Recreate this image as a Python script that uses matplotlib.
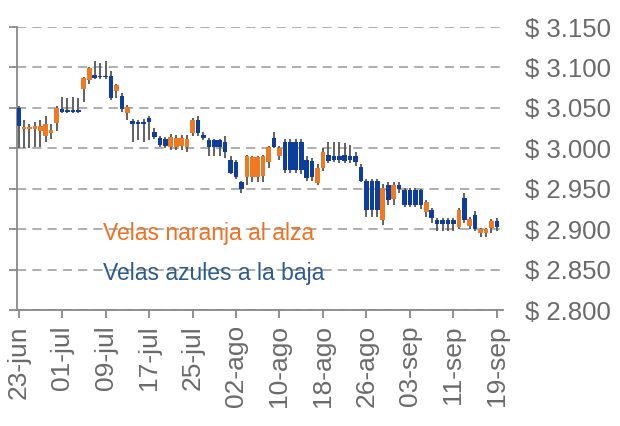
import numpy as np
import pandas as pd
import matplotlib
matplotlib.use("Agg")
import matplotlib.pyplot as plt
from matplotlib.ticker import FuncFormatter

plt.rcParams['font.family'] = ['Liberation Sans', 'DejaVu Sans']

# tasa diaria COP/USD, 23-jun a 19-sep
dates = pd.date_range('2017-06-23', '2017-09-19', freq='D')

open_ = [3050, 3024, 3024, 3024, 3022, 3015, 3019, 3031, 3048, 3047,
         3047, 3047, 3073, 3084, 3091, 3090, 3090, 3089, 3071, 3065,
         3044, 3034, 3033, 3033, 3037, 3020, 3013, 3012, 3002, 3002,
         3003, 3002, 3019, 3035, 3017, 3010, 3010, 3010, 3008, 2986,
         2983, 2958, 2964, 2965, 2965, 2966, 2983, 3013, 2991, 3008,
         3008, 3008, 3008, 2986, 2984, 2957, 2976, 2992, 2990, 2991,
         2992, 2990, 2991, 2977, 2960, 2960, 2960, 2911, 2955, 2937,
         2955, 2949, 2949, 2949, 2948, 2921, 2924, 2911, 2911, 2911,
         2911, 2903, 2939, 2904, 2917, 2895, 2895, 2901, 2910]
close = [3028, 3026, 3026, 3027, 3027, 3030, 3023, 3050, 3045, 3045,
         3045, 3045, 3087, 3099, 3087, 3088, 3088, 3062, 3078, 3049,
         3051, 3030, 3030, 3030, 3033, 3014, 3004, 3003, 3014, 3013,
         3013, 3012, 3035, 3019, 3013, 3002, 3002, 3002, 2995, 2970,
         2965, 2950, 2990, 2989, 2989, 2990, 3002, 3002, 3000, 2973,
         2973, 2973, 2973, 2963, 2965, 2976, 2996, 2984, 2985, 2985,
         2984, 2985, 2983, 2960, 2924, 2924, 2924, 2951, 2936, 2955,
         2950, 2930, 2930, 2930, 2930, 2934, 2914, 2906, 2906, 2906,
         2906, 2924, 2911, 2912, 2900, 2900, 2900, 2910, 2903]
high = [3052, 3035, 3030, 3032, 3035, 3040, 3030, 3052, 3063, 3062,
        3063, 3062, 3088, 3100, 3108, 3105, 3108, 3095, 3080, 3068,
        3053, 3036, 3035, 3036, 3040, 3025, 3015, 3014, 3018, 3016,
        3016, 3016, 3038, 3040, 3020, 3013, 3012, 3012, 3015, 2990,
        2985, 2960, 2992, 2991, 2991, 2992, 3003, 3020, 3003, 3012,
        3012, 3012, 3012, 2990, 2988, 2980, 3000, 3008, 3008, 3008,
        3006, 3004, 2995, 2980, 2962, 2962, 2962, 2956, 2958, 2958,
        2958, 2951, 2951, 2951, 2950, 2936, 2926, 2914, 2914, 2914,
        2914, 2926, 2945, 2915, 2922, 2901, 2901, 2913, 2914]
low = [3000, 3000, 3000, 3001, 3002, 3008, 3012, 3022, 3044, 3044,
       3044, 3044, 3057, 3080, 3086, 3086, 3086, 3060, 3062, 3045,
       3035, 3008, 3010, 3008, 3010, 3012, 3002, 3000, 2998, 2998,
       2998, 2996, 3015, 3015, 3010, 2990, 2990, 2990, 2988, 2968,
       2962, 2945, 2955, 2958, 2958, 2958, 2976, 3000, 2985, 2970,
       2970, 2970, 2968, 2960, 2960, 2955, 2972, 2982, 2983, 2982,
       2982, 2982, 2978, 2958, 2915, 2915, 2915, 2905, 2930, 2930,
       2945, 2928, 2928, 2928, 2925, 2915, 2908, 2898, 2898, 2898,
       2898, 2900, 2908, 2900, 2898, 2890, 2890, 2895, 2898]

tick_dates = ['2017-06-23', '2017-07-01', '2017-07-09', '2017-07-17',
              '2017-07-25', '2017-08-02', '2017-08-10', '2017-08-18',
              '2017-08-26', '2017-09-03', '2017-09-11', '2017-09-19']
tick_labels = ['23-jun', '01-jul', '09-jul', '17-jul', '25-jul', '02-ago',
               '10-ago', '18-ago', '26-ago', '03-sep', '11-sep', '19-sep']

up_color = '#F07A22'
down_color = '#0D3E9E'

o = np.array(open_)
c = np.array(close)
up = c >= o
bottom = np.minimum(o, c)
height = np.maximum(np.abs(c - o), 2)

fig = plt.figure(figsize=(6.2, 4.26), dpi=100)
ax = fig.add_axes([0.0274, 0.2723, 0.7836, 0.6643])

ax.vlines(dates, low, high, color='#555555', linewidth=1.3, zorder=2)
ax.bar(dates[up], height[up], bottom=bottom[up], width=0.85,
       color=up_color, linewidth=0, zorder=3)
ax.bar(dates[~up], height[~up], bottom=bottom[~up], width=0.85,
       color=down_color, linewidth=0, zorder=3)

ax.set_ylim(2800, 3150)
ax.set_yticks(np.arange(2800, 3151, 50))
ax.yaxis.set_major_formatter(FuncFormatter(lambda v, p: '$ ' + f'{int(v):,}'.replace(',', '.')))
ax.set_xlim(dates[0] - pd.Timedelta(hours=7), dates[-1] + pd.Timedelta(hours=26))
ax.set_xticks(pd.to_datetime(tick_dates))
ax.set_xticklabels(tick_labels, rotation=90)

ax.grid(axis='y', color='#999999', linestyle=(0, (6, 4)), linewidth=1.1)
ax.set_axisbelow(True)
for s in ['top', 'right']:
    ax.spines[s].set_visible(False)
for s in ['left', 'bottom']:
    ax.spines[s].set_color('#888888')
    ax.spines[s].set_linewidth(1.3)

ax.tick_params(axis='y', left=True, right=False, labelleft=False, labelright=True,
               length=6, width=1.3, color='#888888', pad=10, labelsize=18.5,
               labelcolor='#6a6a6a')
for lbl in ax.get_yticklabels():
    lbl.set_va('center_baseline')
ax.tick_params(axis='x', length=6, width=1.3, color='#888888', pad=5,
               labelsize=19, labelcolor='#6a6a6a')

ax.text(0.178, 0.27, 'Velas naranja al alza', transform=ax.transAxes,
        color='#F07020', fontsize=16.5, va='center', ha='left', zorder=4)
ax.text(0.178, 0.13, 'Velas azules a la baja', transform=ax.transAxes,
        color='#2D5B8C', fontsize=16.5, va='center', ha='left', zorder=4)

fig.savefig('out.png', dpi=100)
